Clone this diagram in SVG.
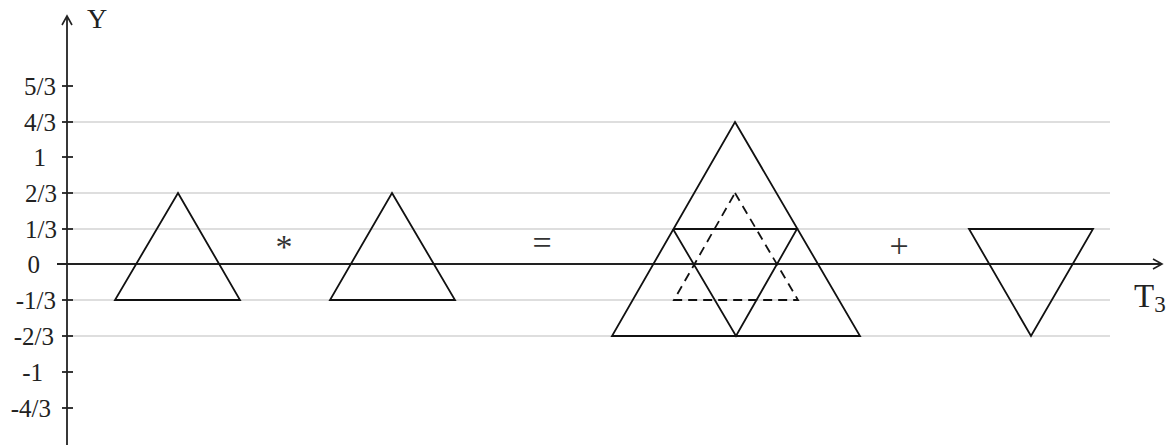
<svg xmlns="http://www.w3.org/2000/svg" width="1167" height="445" viewBox="0 0 1167 445">
<style>
.grid{stroke:#bdbdbd;stroke-width:1.2}
.ax{stroke:#222;stroke-width:1.8;fill:none}
.tri{stroke:#111;stroke-width:1.8;fill:none;stroke-linejoin:miter}
.dash{stroke:#111;stroke-width:1.8;fill:none;stroke-dasharray:9,6}
.lbl{font-family:"Liberation Serif",serif;font-size:25px;fill:#222;text-anchor:end}
.op{font-family:"Liberation Serif",serif;font-size:34px;fill:#333;text-anchor:middle}
</style>
<defs>
<marker id="arr" markerWidth="12" markerHeight="12" refX="10" refY="6" orient="auto" markerUnits="userSpaceOnUse">
<path d="M1,1 L10,6 L1,11" fill="none" stroke="#222" stroke-width="1.6"/>
</marker>
</defs>
<rect width="1167" height="445" fill="#fff"/>
<g id="grid">
<line class="grid" x1="70" y1="122" x2="1110" y2="122"/>
<line class="grid" x1="70" y1="193" x2="1110" y2="193"/>
<line class="grid" x1="70" y1="229" x2="1110" y2="229"/>
<line class="grid" x1="70" y1="300" x2="1110" y2="300"/>
<line class="grid" x1="70" y1="336" x2="1110" y2="336"/>
</g>
<g id="axes">
<line class="ax" x1="67" y1="445" x2="67" y2="16" marker-end="url(#arr)"/>
<line class="ax" x1="57" y1="264" x2="1162" y2="264" marker-end="url(#arr)"/>
<g stroke="#222" stroke-width="1.8">
<line x1="62" y1="86" x2="73" y2="86"/>
<line x1="62" y1="122" x2="73" y2="122"/>
<line x1="62" y1="157" x2="73" y2="157"/>
<line x1="62" y1="193" x2="73" y2="193"/>
<line x1="62" y1="229" x2="73" y2="229"/>
<line x1="62" y1="300" x2="73" y2="300"/>
<line x1="62" y1="336" x2="73" y2="336"/>
<line x1="62" y1="372" x2="73" y2="372"/>
<line x1="62" y1="408" x2="73" y2="408"/>
</g>
<text x="87" y="28" font-family="Liberation Serif, serif" font-size="28" fill="#222">Y</text>
<text x="1134" y="307" font-family="Liberation Serif, serif" font-size="33" fill="#222">T<tspan font-size="23" dy="5">3</tspan></text>
</g>
<g id="labels">
<text class="lbl" x="56" y="95">5/3</text>
<text class="lbl" x="56" y="131">4/3</text>
<text class="lbl" x="46" y="166">1</text>
<text class="lbl" x="57" y="202">2/3</text>
<text class="lbl" x="57" y="238">1/3</text>
<text class="lbl" x="40" y="273">0</text>
<text class="lbl" x="56" y="309">-1/3</text>
<text class="lbl" x="54" y="345">-2/3</text>
<text class="lbl" x="43" y="381">-1</text>
<text class="lbl" x="51" y="417">-4/3</text>
</g>
<g id="tri1"><polygon class="tri" points="178,193 240,300 115,300"/></g>
<g id="tri2"><polygon class="tri" points="392,193 455,300 330,300"/></g>
<g id="big">
<polygon class="tri" points="735,122 860,336 612,336"/>
<polyline class="tri" points="673,229 797,229 736,336 673,229"/>
</g>
<g id="dashed"><polygon class="dash" points="735,193 798,300 674,300"/></g>
<g id="inv"><polygon class="tri" points="969,229 1093,229 1031,336"/></g>
<g id="ops">
<text class="op" x="284" y="258" font-size="28">*</text>
<text class="op" x="542" y="254">=</text>
<text class="op" x="899" y="257">+</text>
</g>
</svg>
